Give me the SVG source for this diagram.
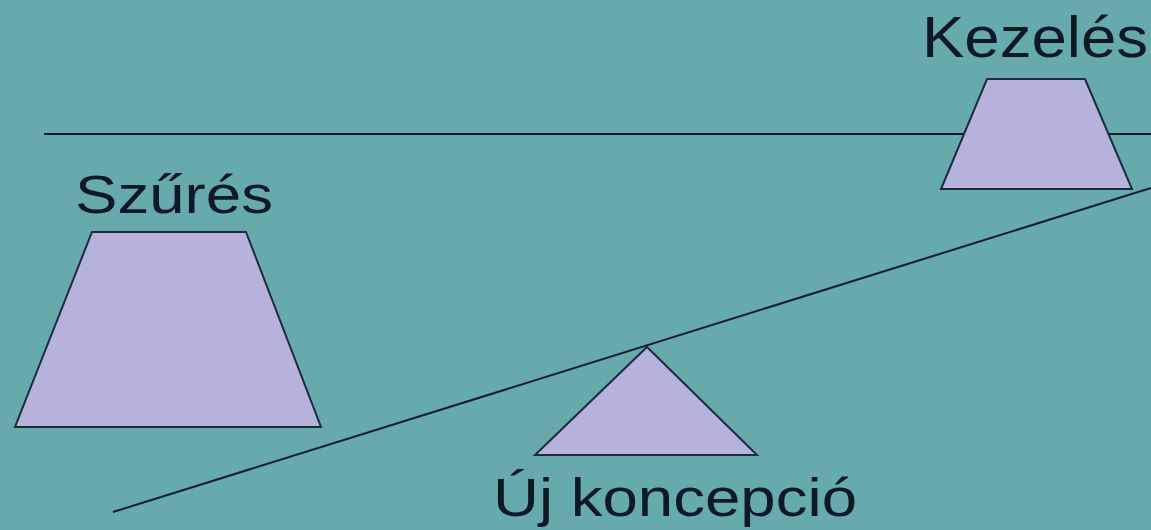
<svg xmlns="http://www.w3.org/2000/svg" width="1151" height="530" viewBox="0 0 1151 530">
<style>
.shape{fill:#b6b2dc;stroke:#1c2c3c;stroke-width:2;stroke-linejoin:miter}
.lbl{font-family:"Liberation Sans",Arial,sans-serif;fill:#0d1a26}
.line{stroke:#101c28;stroke-width:2;fill:none}
</style>
<rect x="0" y="0" width="1151" height="530" fill="#66aaac"/>
<g id="connectors">
<line class="line" x1="44" y1="134" x2="1151" y2="134"/>
<line class="line" x1="113" y1="512" x2="1151" y2="188"/>
</g>
<g id="kezeles">
<polygon class="shape" points="987,79 1085,79 1132,189 941,189"/>
<text class="lbl" x="922" y="57" font-size="57" textLength="226" lengthAdjust="spacingAndGlyphs">Kezelés</text>
</g>
<g id="szures">
<polygon class="shape" points="92,232 246,232 321,427 15,427"/>
<text class="lbl" x="75" y="213" font-size="54" textLength="198" lengthAdjust="spacingAndGlyphs">Szűrés</text>
</g>
<g id="uj-koncepcio">
<polygon class="shape" points="647,347 757,455 535,455"/>
<text class="lbl" x="493" y="516" font-size="54" textLength="364" lengthAdjust="spacingAndGlyphs">Új koncepció</text>
</g>
</svg>
